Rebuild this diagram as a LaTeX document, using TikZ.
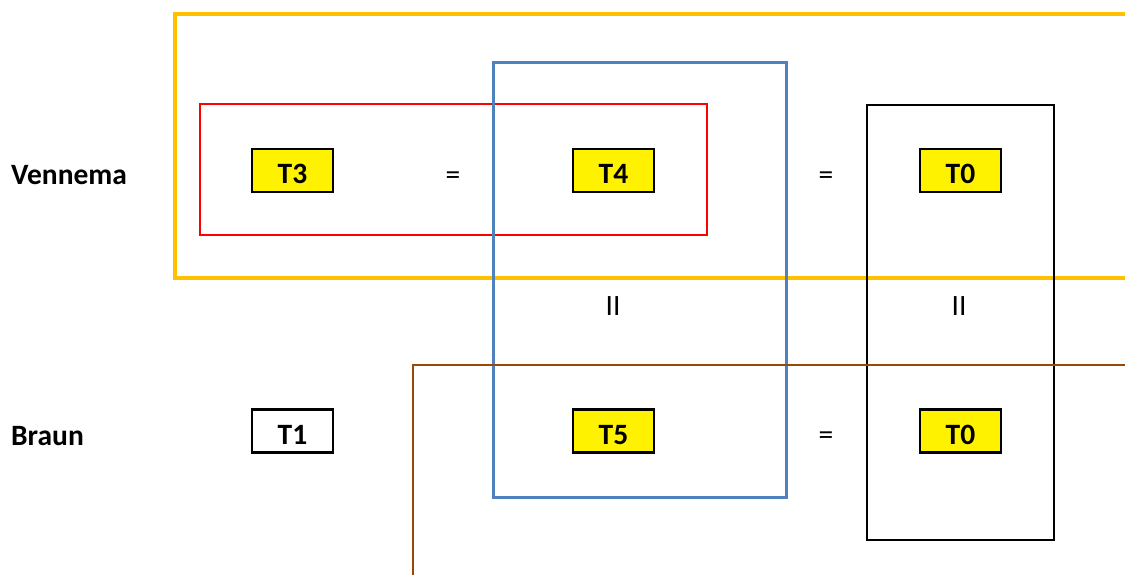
\documentclass[tikz,border=0pt]{standalone}
\usepackage{fontspec}
\setmainfont{Carlito}
\begin{document}
\begin{tikzpicture}[x=1pt,y=-1pt,
  tbox/.style={draw=black,line width=2.4pt,minimum width=81pt,minimum height=43pt,inner sep=0pt,text height=26pt,text depth=0pt,font=\fontsize{29.5}{30}\selectfont\bfseries},
  ybox/.style={tbox,fill=yellow},
  lbl/.style={anchor=west,inner sep=0pt,font=\fontsize{29.5}{30}\selectfont\bfseries},
  eq/.style={inner sep=0pt,font=\fontsize{29.5}{30}\selectfont}]
\useasboundingbox (0,0) rectangle (1125,574);
\definecolor{orng}{HTML}{FFC000}
\definecolor{blu}{HTML}{4F81BD}
\definecolor{brn}{HTML}{984807}
% group frames
\draw[orng,line width=3.3pt] (1130,14) -- (175,14) -- (175,278) -- (1130,278);
\draw[red,line width=1.5pt] (200,104) rectangle (707,235);
\draw[blu,line width=3pt] (493,62) rectangle (786,497);
\draw[black,line width=2.2pt] (867,105) rectangle (1054,540);
\draw[brn,line width=2.3pt] (413,580) -- (413,365) -- (1130,365);
% labels
\node[lbl] (ven) at (11,175) {Vennema};
\node[lbl] (bra) at (11,436) {Braun};
% boxes
\node[ybox] (t3) at (292.5,170.5) {T3};
\node[ybox] (t4) at (613.5,170.5) {T4};
\node[ybox] (t0a) at (960.5,170.5) {T0};
\node[tbox,fill=white] (t1) at (292.5,431) {T1};
\node[ybox] (t5) at (613.5,431) {T5};
\node[ybox] (t0b) at (960.5,431) {T0};
% equalities
\node[eq] (e1) at (453,178) {=};
\node[eq] (e2) at (826,178) {=};
\node[eq] (e3) at (826,438) {=};
\node[eq] (e4) at (613,306) {II};
\node[eq] (e5) at (959,306) {II};
\end{tikzpicture}
\end{document}
